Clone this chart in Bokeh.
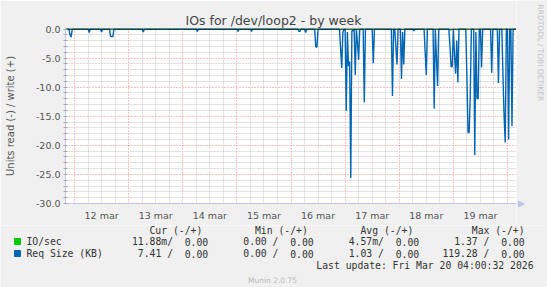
import math
import pandas as pd
from bokeh.plotting import figure
from bokeh.layouts import column, row
from bokeh.models import Range1d, FixedTicker, NumeralTickFormatter
from bokeh.core.properties import value
from bokeh.embed import file_html
from bokeh.resources import INLINE

# ---------------- data ----------------
start_time = "2026-03-11 20:00"
end_time = "2026-03-20 04:00"
day_labels = ["12 mar", "13 mar", "14 mar", "15 mar", "16 mar", "17 mar", "18 mar", "19 mar"]
y_ticks = [0, -5, -10, -15, -20, -25, -30]

# Req Size (KB), read side (plotted negative)
req_times = [
    "2026-03-11 22:00", "2026-03-11 22:30", "2026-03-12 06:30", "2026-03-12 12:00",
    "2026-03-12 16:00", "2026-03-12 16:30", "2026-03-12 17:00", "2026-03-13 06:30",
    "2026-03-14 06:30", "2026-03-15 00:30", "2026-03-15 06:30", "2026-03-16 03:30",
    "2026-03-16 04:00", "2026-03-16 06:30", "2026-03-16 11:00", "2026-03-16 11:30",
    "2026-03-16 22:00", "2026-03-16 22:30", "2026-03-16 23:00", "2026-03-17 00:30",
    "2026-03-17 01:00", "2026-03-17 01:30", "2026-03-17 02:00", "2026-03-17 02:30",
    "2026-03-17 03:00", "2026-03-17 03:30", "2026-03-17 04:30", "2026-03-17 05:30",
    "2026-03-17 06:00", "2026-03-17 08:30", "2026-03-17 12:30", "2026-03-17 21:00",
    "2026-03-17 22:30", "2026-03-17 23:00", "2026-03-18 01:00", "2026-03-18 01:30",
    "2026-03-18 02:00", "2026-03-18 06:30", "2026-03-18 11:30", "2026-03-18 12:00",
    "2026-03-18 15:30", "2026-03-18 16:30", "2026-03-18 17:00", "2026-03-18 22:30",
    "2026-03-18 23:00", "2026-03-18 23:30", "2026-03-19 00:30", "2026-03-19 01:00",
    "2026-03-19 01:30", "2026-03-19 02:00", "2026-03-19 06:00", "2026-03-19 06:30",
    "2026-03-19 07:00", "2026-03-19 07:30", "2026-03-19 09:30", "2026-03-19 10:00",
    "2026-03-19 10:30", "2026-03-19 11:00", "2026-03-19 12:30", "2026-03-19 17:00",
    "2026-03-19 20:00", "2026-03-19 22:00", "2026-03-19 22:30", "2026-03-19 23:00",
    "2026-03-20 00:30", "2026-03-20 02:00",
]
req_values = [
    -1.0, -1.4, -0.6, -0.5,
    -1.3, -1.3, -1.3, -0.5,
    -0.4, -0.4, -0.4, -0.4,
    -0.4, -0.6, -3.1, -3.1,
    -3.5, -6.7, -0.6, -14.1,
    -0.5, -6.4, -5.6, -25.6,
    -0.3, -0.3, -7.9, -2.5,
    -5.3, -12.6, -5.9, -11.5,
    -3.0, -6.1, -8.6, -0.5,
    -6.1, -0.3, -4.0, -7.9,
    -13.7, -5.0, -9.8, -3.0,
    -6.5, -6.5, -4.6, -7.7,
    -2.0, -9.2, -8.0, -17.8,
    -17.8, -11.3, -21.7, -0.5,
    -12.0, -12.0, -6.6, -7.5,
    -9.3, -8.0, -15.0, -19.5,
    -19.0, -16.7,
]

# IO/sec, read side (tiny values, plotted negative)
io_times = ["2026-03-16 22:00", "2026-03-17 00:00", "2026-03-18 01:30", "2026-03-18 22:30",
            "2026-03-18 23:00", "2026-03-19 01:30", "2026-03-20 01:00"]
io_values = [-0.2, -0.2, -0.2, -0.2, -0.2, -0.2, -0.2]

series_names = ["IO/sec", "Req Size (KB)"]
series_colors = ["#00cc00", "#0066b3"]
headers = ["Cur (-/+)", "Min (-/+)", "Avg (-/+)", "Max (-/+)"]
read_stats = [["11.88m", "0.00", "4.57m", "1.37"],      # IO/sec: cur, min, avg, max
              ["7.41", "0.00", "1.03", "119.28"]]       # Req Size
write_stats = [["0.00", "0.00", "0.00", "0.00"],
               ["0.00", "0.00", "0.00", "0.00"]]
last_update = "Last update: Fri Mar 20 04:00:32 2026"
version_text = "Munin 2.0.75"
watermark = "RRDTOOL / TOBI OETIKER"

# ---------------- helpers ----------------
def ms(t):
    return pd.Timestamp(t).value / 1e6

STEP = 30 * 60 * 1000.0

def build_series(times, values):
    pts = {ms(t): v for t, v in zip(times, values)}
    full = dict(pts)
    for t in list(pts):
        for n in (t - STEP, t + STEP):
            if n not in full:
                full[n] = 0.0
    full.setdefault(ms(start_time), 0.0)
    full.setdefault(ms(end_time), 0.0)
    xs = sorted(full)
    return xs, [full[x] for x in xs]

t0, t1 = ms(start_time), ms(end_time)
midnights = [ms(d) for d in pd.date_range("2026-03-12", "2026-03-20", freq="D")]
six_hours = [ms(d) for d in pd.date_range("2026-03-11 00:00", "2026-03-20 06:00", freq="6h")
             if t0 <= ms(d) <= t1 and ms(d) not in midnights]
noons = [ms(d) for d in pd.date_range("2026-03-12 12:00", "2026-03-19 12:00", freq="D")]
y_minor = [v for v in range(-29, 0) if v % 5 != 0]

def blank(width, height, xr, yr):
    f = figure(width=width, height=height, output_backend="svg", toolbar_location=None,
               x_range=Range1d(*xr), y_range=Range1d(*yr),
               min_border=0, min_border_left=0, min_border_right=0,
               min_border_top=0, min_border_bottom=0,
               x_axis_location=None, y_axis_location=None)
    f.background_fill_color = BG
    f.border_fill_color = BG
    f.outline_line_color = None
    f.grid.visible = False
    return f

# ---------------- main figure ----------------
BG = "#f0f0f0"
AX = "#c4c4f4"
MAIN_H = 225
FRAME_R = 516
p = figure(width=FRAME_R, height=MAIN_H, output_backend="svg", toolbar_location=None,
           x_range=Range1d(t0, t1), y_range=Range1d(-30, 0.086),
           min_border_left=65, min_border_right=0, min_border_top=28, min_border_bottom=22)
p.background_fill_color = "white"
p.border_fill_color = BG
p.outline_line_color = None

p.title.text = "IOs for /dev/loop2 - by week"
p.title.text_font = "DejaVu Sans"
p.title.text_font_size = "12.5px"
p.title.text_font_style = "normal"
p.title.text_color = "#444444"
p.title.align = "left"
p.title.offset = 120
p.title.standoff = 1

# grids
p.xgrid.ticker = FixedTicker(ticks=midnights, minor_ticks=six_hours)
p.ygrid.ticker = FixedTicker(ticks=y_ticks, minor_ticks=y_minor)
for g in (p.xgrid, p.ygrid):
    g.grid_line_color = "#ff8080"
    g.grid_line_dash = "1 2"
    g.grid_line_width = 1
    g.minor_grid_line_color = "#c8c8c8"
    g.minor_grid_line_dash = "1 1"

# axes
p.xaxis.ticker = FixedTicker(ticks=noons)
p.xaxis.major_label_overrides = {n: lab for n, lab in zip(noons, day_labels)}
p.xaxis.major_tick_line_color = None
p.xaxis.minor_tick_line_color = None
p.xaxis.axis_line_color = AX
p.xaxis.major_label_standoff = 0
p.yaxis.ticker = FixedTicker(ticks=y_ticks, minor_ticks=y_minor)
p.yaxis.formatter = NumeralTickFormatter(format="0.0")
p.yaxis.axis_line_color = AX
p.yaxis.major_tick_line_color = "#aaaaaa"
p.yaxis.minor_tick_line_color = "#aaaaaa"
p.yaxis.major_tick_in = 2
p.yaxis.major_tick_out = 2
p.yaxis.minor_tick_in = 2
p.yaxis.minor_tick_out = 2
p.yaxis.major_label_standoff = 3
p.yaxis.axis_label = "Units read (-) / write (+)"
p.yaxis.axis_label_text_font = "DejaVu Sans"
p.yaxis.axis_label_text_font_size = "10px"
p.yaxis.axis_label_text_font_style = "normal"
p.yaxis.axis_label_text_color = "#555555"
p.yaxis.axis_label_standoff = 17
for ax in (p.xaxis, p.yaxis):
    ax.major_label_text_font = "DejaVu Sans"
    ax.major_label_text_font_size = "9.5px"
    ax.major_label_text_color = "#555555"

# data lines
gx, gy = build_series(io_times, io_values)
p.line(gx, gy, line_color=series_colors[0], line_width=1)
bx, by = build_series(req_times, req_values)
p.line(bx, by, line_color=series_colors[1], line_width=1.4)
# zero line
p.line([t0, t1], [0, 0], line_color="black", line_width=1)

# ---------------- right strip: watermark + x-axis arrow (pixel canvas) ----------------
r = blank(547 - FRAME_R, MAIN_H, (FRAME_R, 547), (MAIN_H, 0))
r.text(x=[539.5], y=[4], text=[watermark], text_font=value("DejaVu Sans"),
       text_font_size="7.5px", text_color="#c4c4c4", text_align="left",
       text_baseline="middle", angle=-math.pi / 2)
r.line(x=[FRAME_R, 520], y=[203.5, 203.5], line_color=AX, line_width=1)
r.patch(x=[518, 524, 518], y=[200.5, 203.5, 206.5], fill_color=AX, line_color=AX)

# ---------------- legend strip (pixel canvas) ----------------
q = blank(547, 287 - MAIN_H, (0, 547), (287, MAIN_H))

X0, CW = 26.0, 5.86          # mono legend grid: origin and character width
value_end = [31, 49, 67, 85]   # column where each "read / write" field ends
header_end = [30, 48, 66, 85]
header_y, row_y = 229.5, [241, 253]

lx, ly, lt, la = [], [], [], []
for h, e in zip(headers, header_end):
    lx.append(X0 + e * CW); ly.append(header_y); lt.append(h); la.append("right")
for i in range(2):
    lx.append(X0); ly.append(row_y[i]); lt.append(series_names[i]); la.append("left")
    for j, e in enumerate(value_end):
        rv = read_stats[i][j]
        r_txt = rv + "/" if rv.endswith("m") else rv + " /"
        lx.append(X0 + (e - 6) * CW); ly.append(row_y[i]); lt.append(r_txt); la.append("right")
        lx.append(X0 + (e - 4) * CW); ly.append(row_y[i]); lt.append(write_stats[i][j]); la.append("left")
lx.append(533); ly.append(265); lt.append(last_update); la.append("right")

mono = value("DejaVu Sans Mono")
q.text(x="x", y="y", text="t", text_align="a",
       source=dict(x=lx, y=ly, t=lt, a=la),
       text_font=mono, text_font_size="9.75px", text_color="#333333", text_baseline="middle")
q.quad(left=[14, 14], right=[20, 20], top=[y - 3 for y in row_y], bottom=[y + 3 for y in row_y],
       fill_color=series_colors, line_color=series_colors)
q.text(x=[272], y=[280], text=[version_text], text_font=value("DejaVu Sans"),
       text_font_size="7.5px", text_color="#b8b8b8", text_align="center", text_baseline="middle")

layout = column(row(p, column(r), spacing=0), row(q), spacing=0)
open("out.html", "w").write(file_html(layout, INLINE))
